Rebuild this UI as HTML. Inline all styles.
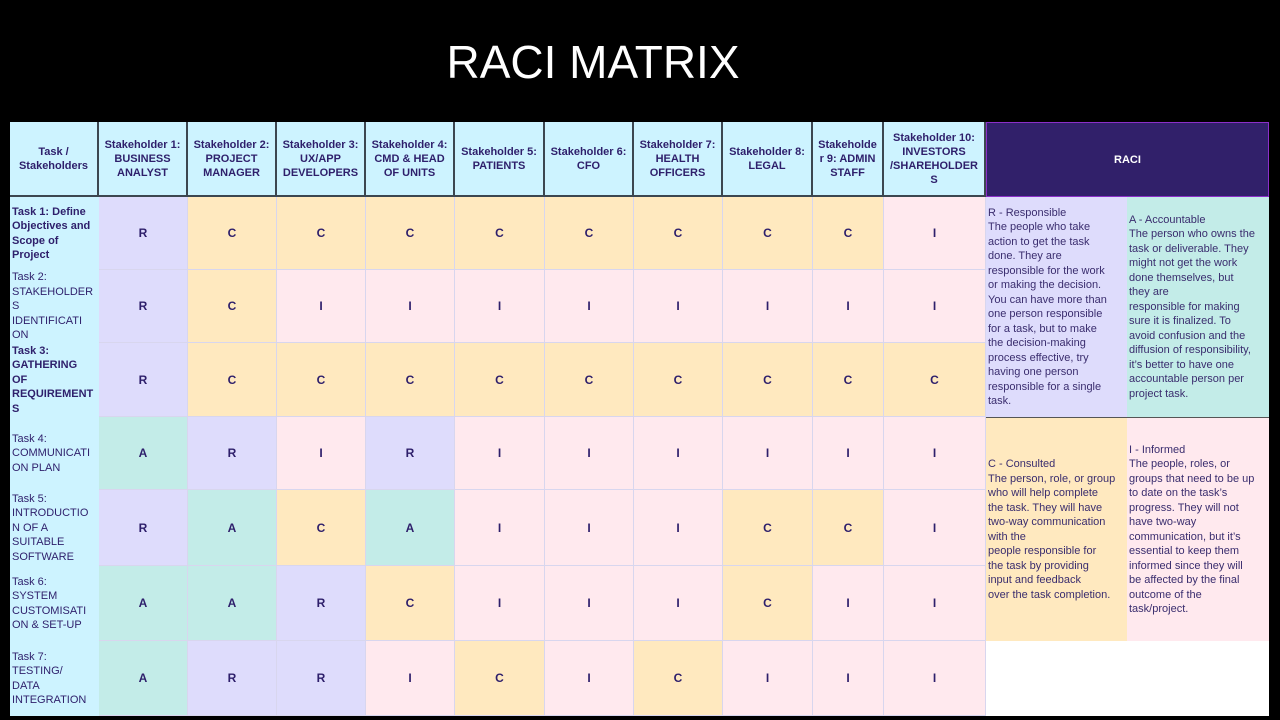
<!DOCTYPE html>
<html><head><meta charset="utf-8">
<style>
body{margin:0;width:1280px;height:720px;background:#000;overflow:hidden;font-family:"Liberation Sans",sans-serif;position:relative}
.t{position:absolute;left:0;top:30px;width:1186px;text-align:center;color:#fff;font-size:46px;line-height:64px}
.c{position:absolute;box-sizing:border-box;display:flex;align-items:center;justify-content:center;text-align:center;color:#2e1f6b;font-size:12px;font-weight:bold;border-right:1px solid #d8d6ee;border-bottom:1px solid #d8d6ee}
.h{background:#cdf3ff;line-height:14px;font-size:11px}
.tk{justify-content:flex-start;text-align:left;padding-left:2px;font-weight:normal;font-size:11px;line-height:14.5px;background:#cdf3ff;border:none}
.lg{position:absolute;box-sizing:border-box;color:#3a2d6e;font-size:11px;line-height:14.5px;display:flex;align-items:center;padding-left:2px;white-space:nowrap}
</style></head><body>
<div class="t">RACI MATRIX</div>
<div id="tbl"></div>
<div class="c" style="left:986px;top:122px;width:283px;height:75px;background:#31206a;color:#fff;font-size:11px;border:1px solid #8b2fc9">RACI</div>
<div class="lg" style="left:986px;top:197px;width:141px;height:220px;background:#dedcfc"><div>R - Responsible<br>The people who take<br>action to get the task<br>done. They are<br>responsible for the work<br>or making the decision.<br>You can have more than<br>one person responsible<br>for a task, but to make<br>the decision-making<br>process effective, try<br>having one person<br>responsible for a single<br>task.</div></div>
<div class="lg" style="left:1127px;top:197px;width:142px;height:220px;background:#c3ece8"><div>A - Accountable<br>The person who owns the<br>task or deliverable. They<br>might not get the work<br>done themselves, but<br>they are<br>responsible for making<br>sure it is finalized. To<br>avoid confusion and the<br>diffusion of responsibility,<br>it’s better to have one<br>accountable person per<br>project task.</div></div>
<div class="lg" style="left:986px;top:417px;width:141px;height:224px;background:#ffe9bf;border-top:1px solid #555"><div>C - Consulted<br>The person, role, or group<br>who will help complete<br>the task. They will have<br>two-way communication<br>with the<br>people responsible for<br>the task by providing<br>input and feedback<br>over the task completion.</div></div>
<div class="lg" style="left:1127px;top:417px;width:142px;height:224px;background:#ffe9ee;border-top:1px solid #555"><div>I - Informed<br>The people, roles, or<br>groups that need to be up<br>to date on the task’s<br>progress. They will not<br>have two-way<br>communication, but it’s<br>essential to keep them<br>informed since they will<br>be affected by the final<br>outcome of the<br>task/project.</div></div>
<div style="position:absolute;left:986px;top:641px;width:283px;height:75px;background:#fff"></div>
<script>
const headers=["Task /<br>Stakeholders","Stakeholder 1:<br>BUSINESS<br>ANALYST","Stakeholder 2:<br>PROJECT<br>MANAGER","Stakeholder 3:<br>UX/APP<br>DEVELOPERS","Stakeholder 4:<br>CMD &amp; HEAD<br>OF UNITS","Stakeholder 5:<br>PATIENTS","Stakeholder 6:<br>CFO","Stakeholder 7:<br>HEALTH<br>OFFICERS","Stakeholder 8:<br>LEGAL","Stakeholde<br>r 9: ADMIN<br>STAFF","Stakeholder 10:<br>INVESTORS<br>/SHAREHOLDER<br>S"];
const tasks=["<b>Task 1: Define<br>Objectives and<br>Scope of<br>Project</b>","Task 2:<br>STAKEHOLDER<br>S<br>IDENTIFICATI<br>ON","<b>Task 3:<br>GATHERING<br>OF<br>REQUIREMENT<br>S</b>","Task 4:<br>COMMUNICATI<br>ON PLAN","Task 5:<br>INTRODUCTIO<br>N OF A<br>SUITABLE<br>SOFTWARE","Task 6:<br>SYSTEM<br>CUSTOMISATI<br>ON &amp; SET-UP","Task 7:<br>TESTING/<br>DATA<br>INTEGRATION"];
const roles=[
"RCCCCCCCCI","RCIIIIIIII","RCCCCCCCCC","ARIRIIIIII","RACAIIICCI","AARCIIICII","ARRICICIII"];
const colX=[10,99,188,277,366,455,545,634,723,813,884,986];
const rowY=[122,197,270,343,417,490,566,641,716];
const bg={R:"#dedcfc",C:"#ffe9bf",I:"#ffe9ee",A:"#c3ece8"};
const tbl=document.getElementById('tbl');
function mk(x,y,w,h){const d=document.createElement('div');d.className='c';d.style.left=x+'px';d.style.top=y+'px';d.style.width=w+'px';d.style.height=h+'px';tbl.appendChild(d);return d;}
headers.forEach((t,i)=>{
 const d=mk(colX[i],rowY[0],colX[i+1]-colX[i],rowY[1]-rowY[0]);
 d.classList.add('h');d.innerHTML=t;
 d.style.borderRight='2px solid #3c4650';d.style.borderBottom='2px solid #3c4650';
 
 
});
tasks.forEach((t,r)=>{
 const d=mk(colX[0],rowY[r+1],colX[1]-colX[0],rowY[r+2]-rowY[r+1]);
 d.classList.add('tk');d.innerHTML=t;
 
 
 roles[r].split('').forEach((v,c)=>{
  const e=mk(colX[c+1],rowY[r+1],colX[c+2]-colX[c+1],rowY[r+2]-rowY[r+1]);
  e.style.background=bg[v];e.textContent=v;
  
  
 });
});
</script>
</body></html>
